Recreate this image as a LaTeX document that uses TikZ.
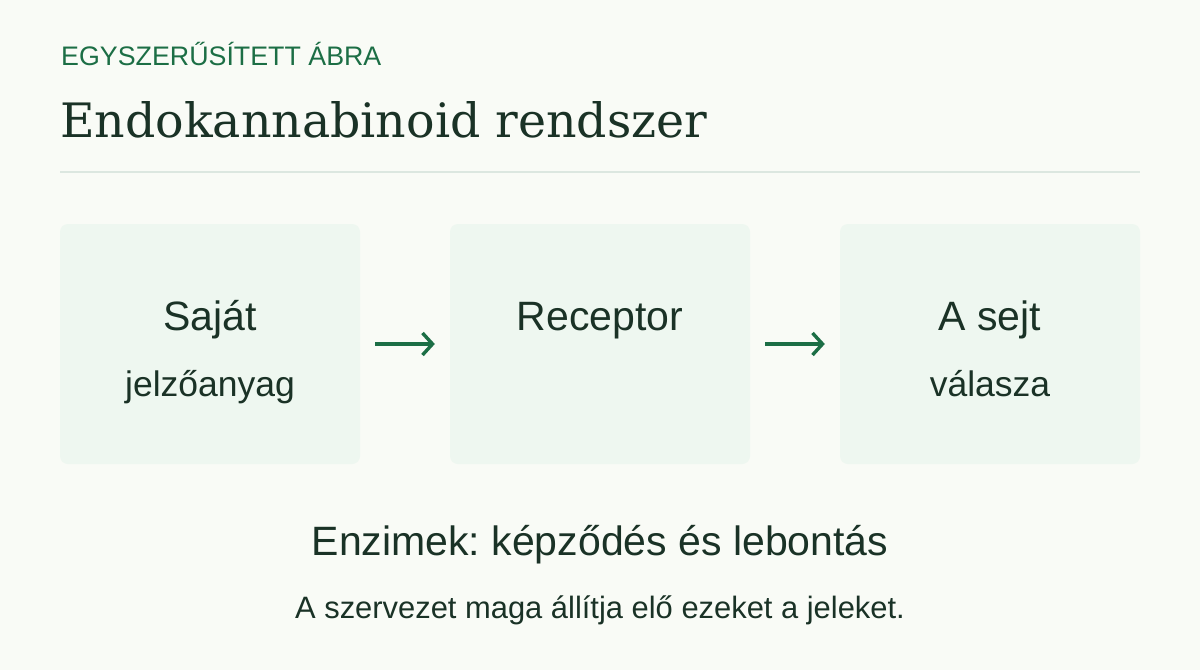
\documentclass[tikz,border=0pt]{standalone}
\usepackage{fontspec}
\setmainfont{Liberation Sans}
\newfontfamily\titlefont{DejaVu Serif}
\usepackage{tikz}
\usetikzlibrary{positioning, arrows.meta}
\frenchspacing

\definecolor{pagebg}{HTML}{F9FBF6}
\definecolor{boxfill}{HTML}{EEF7F0}
\definecolor{leafgreen}{HTML}{1C6E45}
\definecolor{darkink}{HTML}{1A3226}
\definecolor{ruleline}{HTML}{DCE7E0}

\newcommand{\fsz}[1]{\fontsize{#1}{#1}\selectfont}

\begin{document}
\begin{tikzpicture}[x=1pt, y=-1pt,
    stagebox/.style={draw=none, fill=boxfill, rounded corners=8pt,
        minimum width=300pt, minimum height=240pt, inner sep=0pt},
    bigtext/.style={anchor=base, text=darkink, inner sep=0pt, font=\fsz{41}},
    smalltext/.style={anchor=base, text=darkink, inner sep=0pt, font=\fsz{35.5}},
    flow/.style={leafgreen, line width=3.4pt, shorten <=15pt, shorten >=15pt,
        -{Straight Barb[length=10pt, width=22pt, line width=3.4pt]}}]

    % page
    \fill[pagebg] (0,0) rectangle (1200,670);
    \useasboundingbox (0,0) rectangle (1200,670);

    % heading
    \node[anchor=base west, inner sep=0pt, text=leafgreen, font=\fsz{26.8}]
        (kicker) at (61,65) {EGYSZERŰSÍTETT ÁBRA};
    \node[anchor=base west, inner sep=0pt, text=darkink, font=\titlefont\fsz{47.4}]
        (title) at (60,137) {Endokannabinoid rendszer};
    \draw[ruleline, line width=1.5pt] (60,172) -- (1140,172);

    % boxes
    \foreach \name/\cx in {sajat/210, receptor/600, valasz/990}
    {
        \node[stagebox] (\name) at (\cx,344) {};
    }

    % box texts
    \node[bigtext] (sajat1) at (210,330) {Saját};
    \node[smalltext] (sajat2) at (210,396) {jelzőanyag};
    \node[bigtext] (receptor1) at (600,330) {Receptor};
    \node[bigtext] (valasz1) at (990,330) {A sejt};
    \node[smalltext] (valasz2) at (990,396) {válasza};

    % arrows
    \foreach \from/\to in {sajat/receptor, receptor/valasz}
    {
        \draw[flow] (\from) -- (\to);
    }

    % bottom texts
    \node[bigtext] (enzimek) at (600,555) {Enzimek: képződés és lebontás};
    \node[anchor=base, text=darkink, inner sep=0pt, font=\fsz{30.9}]
        (note) at (600,618) {A szervezet maga állítja elő ezeket a jeleket.};

\end{tikzpicture}
\end{document}
